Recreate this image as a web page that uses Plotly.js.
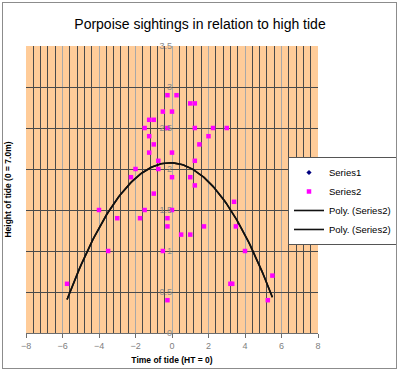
<!DOCTYPE html>
<html>
<head>
<meta charset="utf-8">
<script src="https://cdn.plot.ly/plotly-3.0.1.min.js"></script>
<style>
  html, body { margin: 0; padding: 0; background: #fff; }
  #wrap { position: relative; width: 400px; height: 372px; }
  #chart { position: absolute; left: 0; top: 0; width: 400px; height: 372px; }
  #frame { position: absolute; left: 2px; top: 2px; width: 393px; height: 365px;
           border: 1px solid #8c8c8c; pointer-events: none; }
</style>
</head>
<body>
<div id="wrap"><div id="chart"></div><div id="frame"></div></div>
<script>
// ---- data ----
const chartTitle = 'Porpoise sightings in relation to high tide';
const xTitle = 'Time of tide (HT = 0)';
const yTitle = 'Height of tide (0 = 7.0m)';
const seriesNames = ['Series1', 'Series2', 'Poly. (Series2)', 'Poly. (Series2)'];

// Series1 has no visible points in the reference
const series1X = [null];
const series1Y = [null];

// Series2: time of tide (hours from HT) and height
const series2X = [-0.25, 0.25, -0.5, 0, -1.25, -1, -1.5, -0.25, -1.25, -1, -1.25, 0, -0.75, -2, -0.75, -2.25, 0,
                  1, 1.25, 1.25, 2.25, 3, 2, 1.5, 1.25, 1, 1.25, -1, -4, -1.5, 0, -3, -1.75, -0.25, -0.25,
                  0.5, 1, 1.75, 3.4, 3.5, 4, -3.5, -0.5, 3.2, 3.3, 5.5, 5.25, -5.75, -0.25];
const series2Y = [2.9, 2.9, 2.7, 2.7, 2.6, 2.6, 2.5, 2.5, 2.4, 2.3, 2.2, 2.2, 2.1, 2.0, 2.0, 1.9, 1.9,
                  2.8, 2.8, 2.5, 2.5, 2.5, 2.4, 2.3, 2.1, 1.9, 1.8, 1.7, 1.5, 1.5, 1.5, 1.4, 1.4, 1.4, 1.3,
                  1.2, 1.2, 1.3, 1.6, 1.3, 1.0, 1.0, 1.0, 0.6, 0.6, 0.7, 0.4, 0.6, 0.4];

// polynomial trendline orders (both Excel "Poly." trendlines are quadratic fits)
const trendOrders = [2, 2];

// ---- least-squares polynomial fit of Series2 (what the trendlines are) ----
function polyfit(xs, ys, order) {
  const n = order + 1;
  const A = [];
  for (let i = 0; i < n; i++) {
    A.push(new Array(n + 1).fill(0));
    for (let j = 0; j < n; j++) {
      let s = 0; for (let k = 0; k < xs.length; k++) s += Math.pow(xs[k], i + j);
      A[i][j] = s;
    }
    let s = 0; for (let k = 0; k < xs.length; k++) s += ys[k] * Math.pow(xs[k], i);
    A[i][n] = s;
  }
  for (let c = 0; c < n; c++) {
    let p = c; for (let r = c + 1; r < n; r++) if (Math.abs(A[r][c]) > Math.abs(A[p][c])) p = r;
    [A[c], A[p]] = [A[p], A[c]];
    for (let r = 0; r < n; r++) {
      if (r === c) continue;
      const f = A[r][c] / A[c][c];
      for (let k = c; k <= n; k++) A[r][k] -= f * A[c][k];
    }
  }
  return A.map((row, i) => row[n] / row[i]);
}
function trendTrace(order, name) {
  const coef = polyfit(series2X, series2Y, order);
  const lo = Math.min(...series2X), hi = Math.max(...series2X);
  const xs = [], ys = [];
  const steps = 120;
  for (let i = 0; i <= steps; i++) {
    const x = lo + (hi - lo) * i / steps;
    let y = 0; coef.forEach((c, k) => { y += c * Math.pow(x, k); });
    xs.push(x); ys.push(y);
  }
  return { x: xs, y: ys, name: name, type: 'scatter', mode: 'lines', yaxis: 'y2',
           line: { color: '#111111', width: 1.6 }, hoverinfo: 'skip' };
}

const FONT = 'Arial, "Liberation Sans", sans-serif';

const traces = [
  { x: series1X, y: series1Y, name: seriesNames[0], type: 'scatter', mode: 'markers',
    marker: { symbol: 'diamond', color: '#000080', size: 4 } },
  { x: series2X, y: series2Y, name: seriesNames[1], type: 'scatter', mode: 'markers',
    marker: { symbol: 'square', color: '#FF00FF', size: 4.5 } },
  trendTrace(trendOrders[0], seriesNames[2]),
  trendTrace(trendOrders[1], seriesNames[3])
];

const layout = {
  width: 400, height: 372,
  margin: { l: 26, r: 82, t: 46, b: 39, pad: 0, autoexpand: false },
  paper_bgcolor: '#ffffff',
  plot_bgcolor: '#FFCC99',
  font: { family: FONT, size: 9, color: '#000' },
  title: { text: chartTitle, font: { family: FONT, size: 14, color: '#000' },
           x: 0.5, xref: 'container', xanchor: 'center', y: 0.935, yref: 'container', yanchor: 'middle' },
  showlegend: true,
  legend: {
    x: 0.9925, xanchor: 'right', xref: 'container',
    y: 0.578, yanchor: 'top', yref: 'container',
    bgcolor: '#ffffff', bordercolor: '#555555', borderwidth: 1,
    font: { family: FONT, size: 9.5, color: '#000' },
    itemwidth: 30, tracegroupgap: 0
  },
  xaxis: {
    range: [-8, 8], dtick: 2, tick0: 0,
    showgrid: true, gridcolor: '#a8a8a8', gridwidth: 1,
    minor: { dtick: 0.4, tick0: 0, showgrid: true, gridcolor: '#4a4a4a', gridwidth: 1, ticks: '' },
    zeroline: false,
    showline: true, linecolor: '#6e6e6e', linewidth: 1,
    ticks: 'outside', ticklen: 4, tickcolor: '#6e6e6e',
    tickfont: { family: FONT, size: 9, color: '#808080' },
    title: { text: xTitle, font: { family: FONT, size: 8.5, color: '#000', weight: 'bold' }, standoff: 7 },
    fixedrange: true
  },
  yaxis: {
    range: [0, 3.5], dtick: 0.5, tick0: 0,
    showgrid: true, gridcolor: '#4a4a4a', gridwidth: 1,
    zeroline: false, showline: false, showticklabels: false, ticks: '',
    title: { text: yTitle, font: { family: FONT, size: 8.5, color: '#000', weight: 'bold' }, standoff: 12 },
    fixedrange: true
  },
  yaxis2: {
    overlaying: 'y', anchor: 'free', position: 0.5, side: 'left',
    range: [0, 3.5], dtick: 0.5, tick0: 0,
    showgrid: false, zeroline: false, showline: false, ticks: '',
    tickfont: { family: FONT, size: 9, color: '#8a8a8a' },
    fixedrange: true
  }
};

Plotly.newPlot('chart', traces, layout, { displayModeBar: false, staticPlot: true });
</script>
</body>
</html>
